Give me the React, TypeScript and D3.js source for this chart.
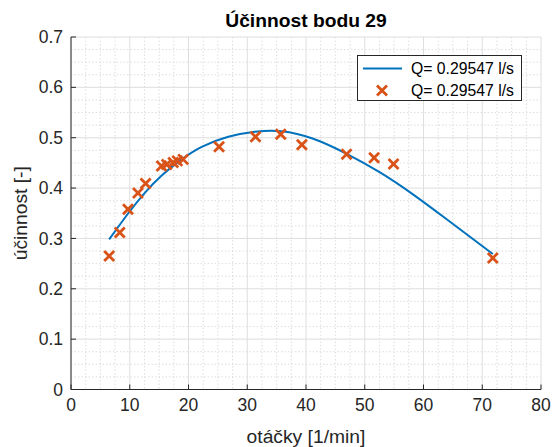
import React from "react";
import * as d3 from "d3";

const pointsX = [6.5, 8.3, 9.7, 11.4, 12.7, 15.4, 16.3, 17.4, 18.1, 19.1, 25.2, 31.4, 35.7, 39.3, 46.9, 51.6, 54.9, 71.8];
const pointsY = [0.265, 0.312, 0.358, 0.390, 0.409, 0.444, 0.447, 0.451, 0.454, 0.457, 0.482, 0.502, 0.507, 0.486, 0.467, 0.460, 0.448, 0.261];

const fitX = [6.5, 9.75, 12.6, 15.44, 18.84, 22.25, 26.77, 31.32, 35.86, 41.24, 46.93, 52.6, 58.26, 63.95, 71.8];
const fitY = [0.298, 0.350, 0.391, 0.425, 0.457, 0.482, 0.502, 0.512, 0.513, 0.498, 0.468, 0.431, 0.387, 0.338, 0.269];

const xTicks = [0, 10, 20, 30, 40, 50, 60, 70, 80];
const yTicks = [0, 0.1, 0.2, 0.3, 0.4, 0.5, 0.6, 0.7];
const legendLabels = ["Q= 0.29547 l/s", "Q= 0.29547 l/s"];
const titleText = "Účinnost bodu 29";
const xLabel = "otáčky [1/min]";
const yLabel = "účinnost [-]";

const W = 552, H = 447;
const L = 71, R = 541, T = 37, B = 389.5;
const FONT = "'Liberation Sans', Arial, Helvetica, sans-serif";
const BLUE = "#0072BD";
const ORANGE = "#D95319";
const AX = "#262626";

export default function App() {
  const x = d3.scaleLinear().domain([0, 80]).range([L, R]);
  const y = d3.scaleLinear().domain([0, 0.7]).range([B, T]);

  const minorX = d3.range(0, 80.001, 2.5).filter((v) => Math.abs(v / 10 - Math.round(v / 10)) > 1e-6);
  const minorY = d3.range(0, 0.7001, 0.025).filter((v) => Math.abs(v / 0.1 - Math.round(v / 0.1)) > 1e-6);

  const fit = fitX.map((v, i) => [v, fitY[i]] as [number, number]);
  const line = d3
    .line<[number, number]>()
    .x((d) => x(d[0]))
    .y((d) => y(d[1]))
    .curve(d3.curveNatural);

  const ms = 5;
  const cross = (cx: number, cy: number, k: string) => (
    <g key={k} stroke={ORANGE} strokeWidth={2.8} strokeLinecap="butt">
      <line x1={cx - ms} y1={cy - ms} x2={cx + ms} y2={cy + ms} />
      <line x1={cx - ms} y1={cy + ms} x2={cx + ms} y2={cy - ms} />
    </g>
  );

  return (
    <svg
      width={W}
      height={H}
      style={{ position: "fixed", left: 0, top: 0, background: "#fff" }}
      fontFamily={FONT}
    >
      <rect x={0} y={0} width={W} height={H} fill="#fff" />
      {minorX.map((v) => (
        <line key={"mx" + v} x1={x(v)} x2={x(v)} y1={T} y2={B} stroke="#d6d6d6" strokeWidth={0.8} strokeDasharray="1.5,2" />
      ))}
      {minorY.map((v) => (
        <line key={"my" + v} x1={L} x2={R} y1={y(v)} y2={y(v)} stroke="#d6d6d6" strokeWidth={0.8} strokeDasharray="1.5,2" />
      ))}
      {xTicks.map((v) => (
        <line key={"gx" + v} x1={x(v)} x2={x(v)} y1={T} y2={B} stroke="#dedede" strokeWidth={1} />
      ))}
      {yTicks.map((v) => (
        <line key={"gy" + v} x1={L} x2={R} y1={y(v)} y2={y(v)} stroke="#dedede" strokeWidth={1} />
      ))}
      <line x1={L} x2={R} y1={B} y2={B} stroke={AX} strokeWidth={1} />
      <line x1={L} x2={L} y1={T} y2={B} stroke={AX} strokeWidth={1} />
      {xTicks.map((v) => (
        <line key={"tx" + v} x1={x(v)} x2={x(v)} y1={B} y2={B - 5} stroke={AX} strokeWidth={1} />
      ))}
      {yTicks.map((v) => (
        <line key={"ty" + v} x1={L} x2={L + 5} y1={y(v)} y2={y(v)} stroke={AX} strokeWidth={1} />
      ))}
      {xTicks.map((v) => (
        <text key={"lx" + v} x={x(v)} y={410.5} textAnchor="middle" fontSize={17.5} fill={AX}>
          {v}
        </text>
      ))}
      {yTicks.map((v) => (
        <text key={"ly" + v} x={L - 8} y={y(v)} dy="0.35em" textAnchor="end" fontSize={17.5} fill={AX}>
          {d3.format("~g")(v)}
        </text>
      ))}
      <path d={line(fit) || ""} fill="none" stroke={BLUE} strokeWidth={2} />
      {pointsX.map((v, i) => cross(x(v), y(pointsY[i]), "p" + i))}
      <text x={(L + R) / 2} y={443} textAnchor="middle" fontSize={19.25} fill={AX}>
        {xLabel}
      </text>
      <text transform={`translate(27,${(T + B) / 2}) rotate(-90)`} textAnchor="middle" fontSize={19.25} fill={AX}>
        {yLabel}
      </text>
      <text x={(L + R) / 2} y={27} textAnchor="middle" fontSize={19.25} fontWeight="bold" fill="#000">
        {titleText}
      </text>
      <rect x={357.5} y={55.5} width={164} height={45} fill="#fff" stroke={AX} strokeWidth={1} />
      <line x1={363} x2={402} y1={68.5} y2={68.5} stroke={BLUE} strokeWidth={2} />
      <text x={411} y={68.5} dy="0.35em" fontSize={15.75} fill="#000">
        {legendLabels[0]}
      </text>
      {cross(382, 90.5, "leg")}
      <text x={411} y={90.5} dy="0.35em" fontSize={15.75} fill="#000">
        {legendLabels[1]}
      </text>
    </svg>
  );
}
